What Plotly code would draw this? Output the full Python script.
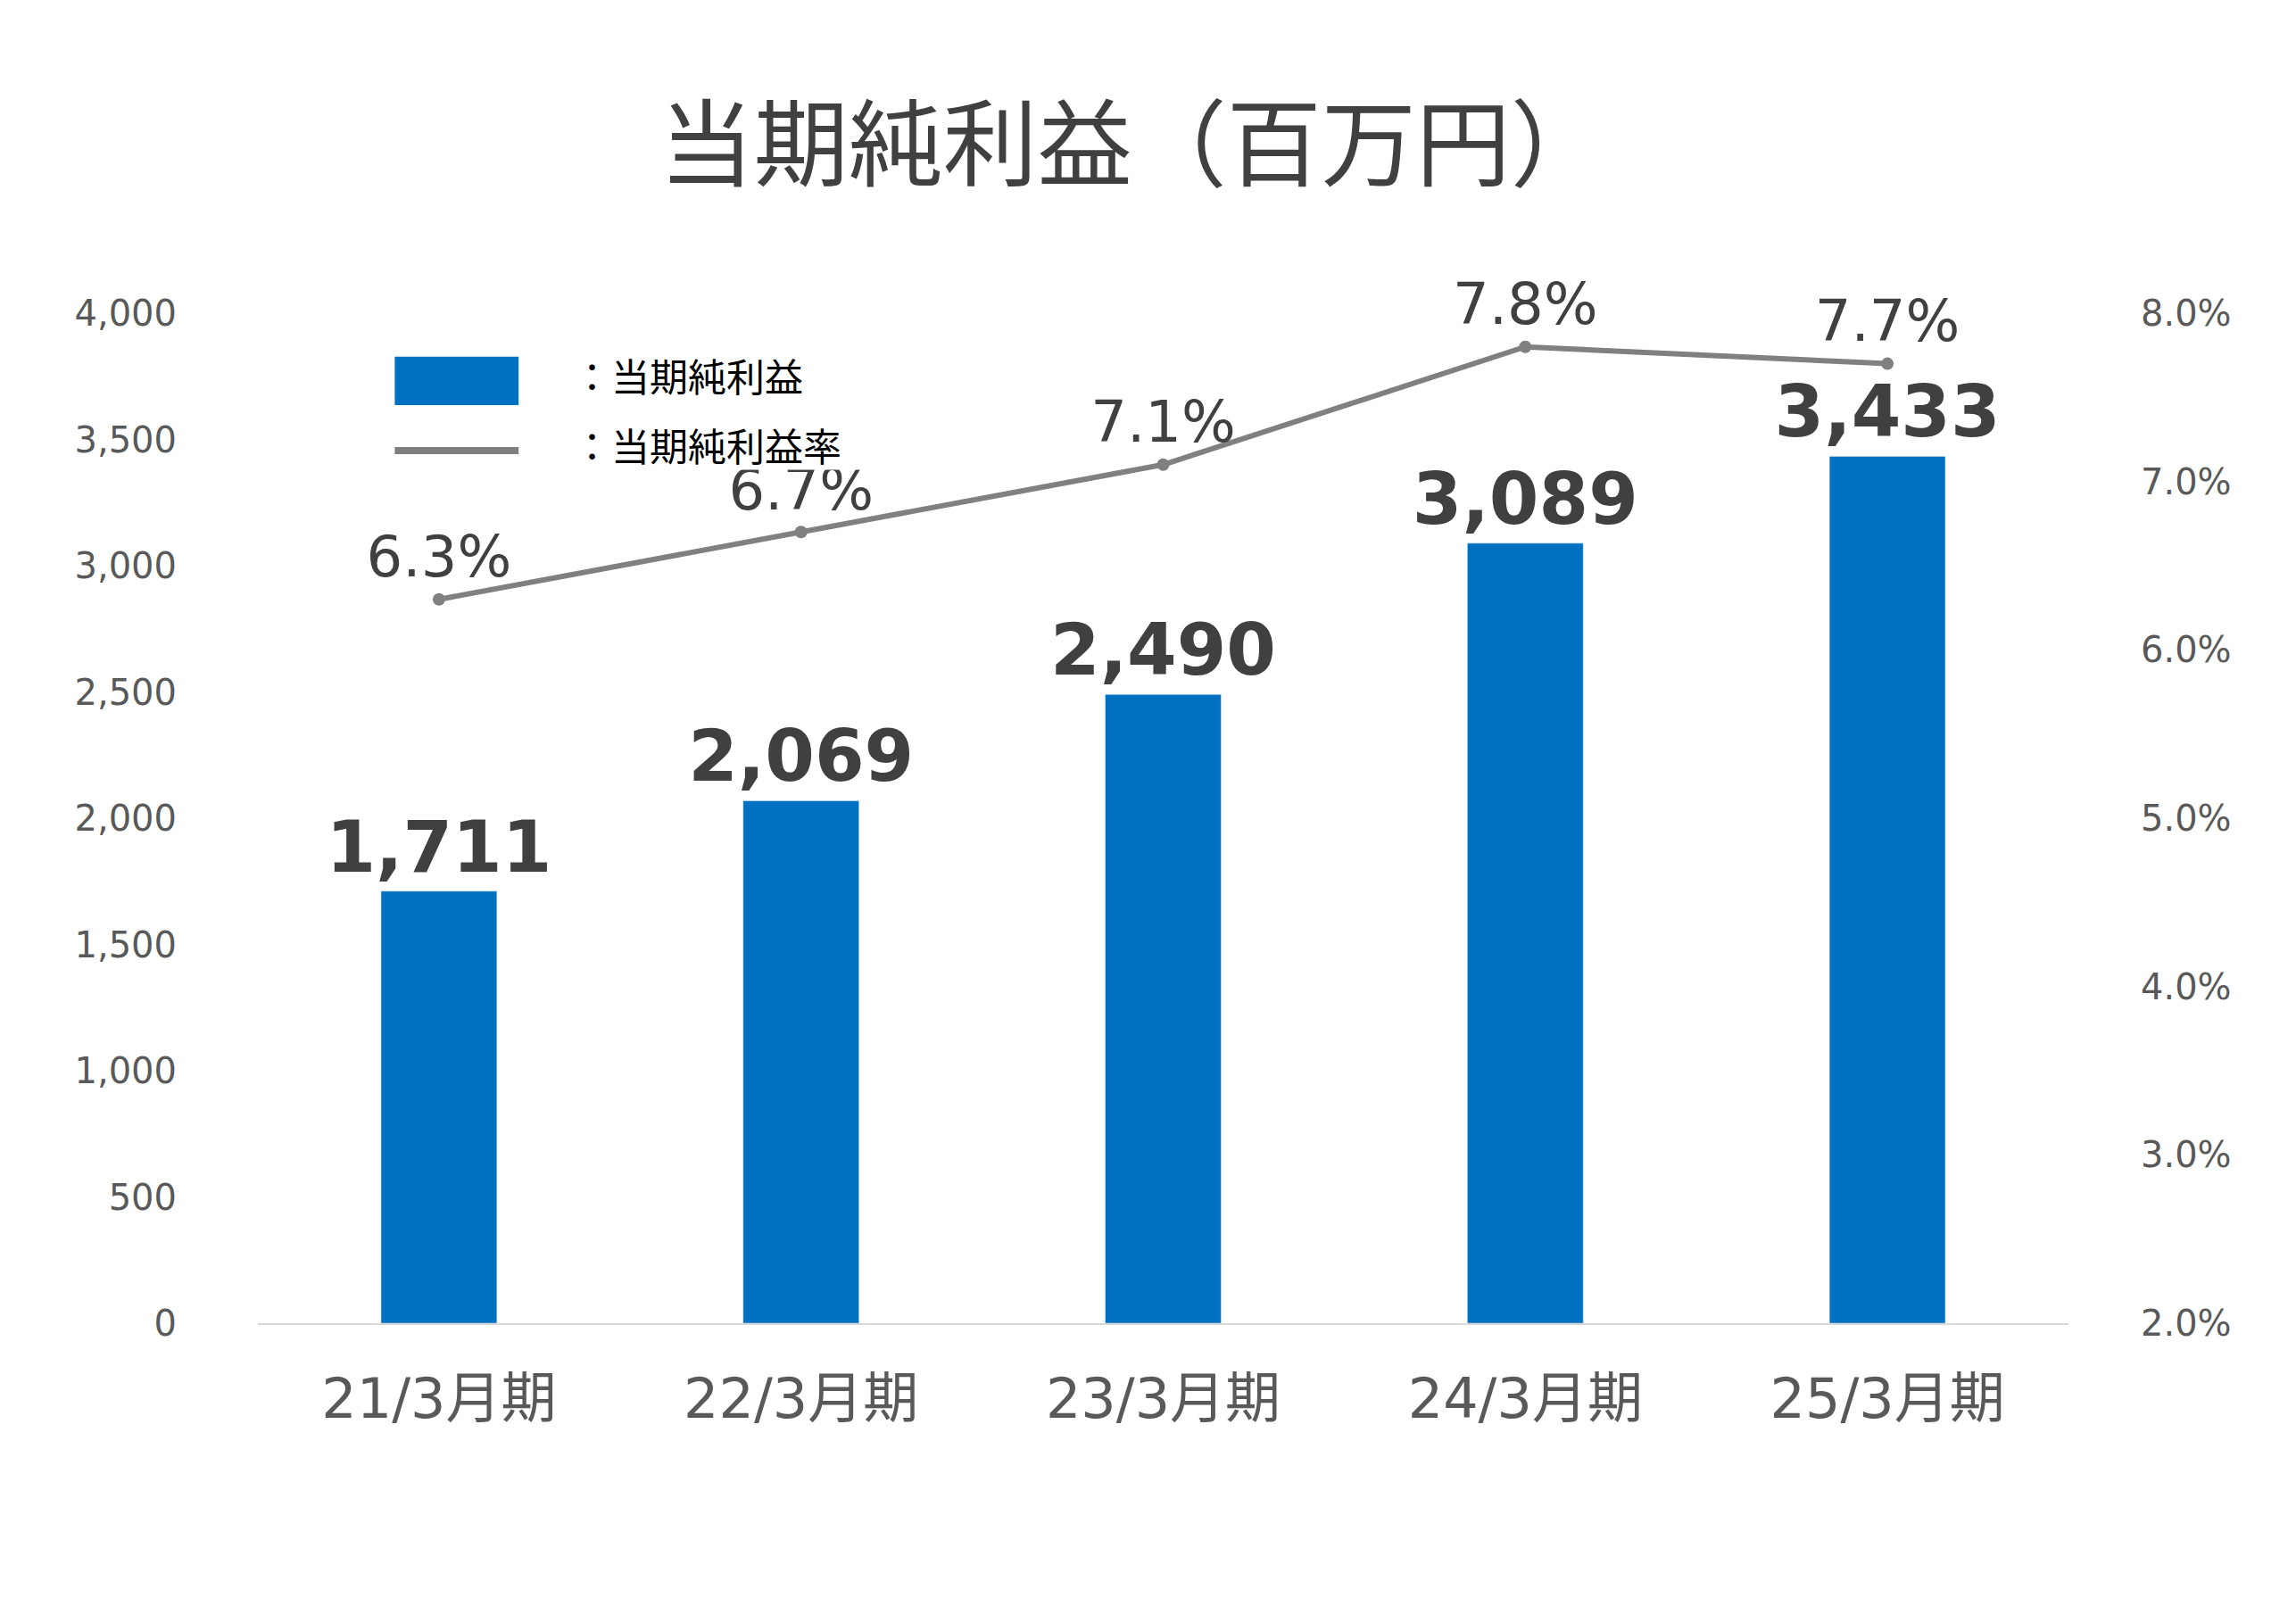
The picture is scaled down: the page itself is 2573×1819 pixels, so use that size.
import plotly.graph_objects as go

# chart data
categories = ["21/3月期", "22/3月期", "23/3月期", "24/3月期", "25/3月期"]
net_income = [1711, 2069, 2490, 3089, 3433]
net_margin = [0.063, 0.067, 0.071, 0.078, 0.077]
margin_labels = ["6.3%", "6.7%", "7.1%", "7.8%", "7.7%"]
legend_labels = ["：当期純利益", "：当期純利益率"]

BAR_COLOR = "#0070C0"
LINE_COLOR = "#808080"
TEXT_COLOR = "#404040"
TICK_COLOR = "#595959"
FONT = "DejaVu Sans, Noto Sans CJK JP"

fig = go.Figure()
fig.add_trace(go.Bar(
    x=categories, y=net_income, name=legend_labels[0],
    marker_color=BAR_COLOR, width=0.32,
    text=[f"{v:,}" for v in net_income], textposition="outside",
    constraintext="none",
    textfont=dict(size=80, color=TEXT_COLOR, family=FONT, weight="bold"),
    cliponaxis=False,
))
fig.add_trace(go.Scatter(
    x=categories, y=net_margin, name=legend_labels[1], yaxis="y2",
    mode="lines+markers+text", text=margin_labels, textposition="top center",
    line=dict(color=LINE_COLOR, width=6), marker=dict(size=14, color=LINE_COLOR),
    textfont=dict(size=64, color=TEXT_COLOR, family=FONT),
    cliponaxis=False,
))

# hand-drawn legend (plot-area relative coordinates)
fig.add_shape(type="rect", xref="paper", yref="paper", x0=0.07, x1=0.36, y0=0.845, y1=0.975,
              fillcolor="white", line_width=0, layer="above")
fig.add_shape(type="rect", xref="paper", yref="paper", x0=0.0756, x1=0.144, y0=0.909, y1=0.957,
              fillcolor=BAR_COLOR, line_width=0, layer="above")
fig.add_shape(type="line", xref="paper", yref="paper", x0=0.0756, x1=0.144, y0=0.864, y1=0.864,
              line=dict(color=LINE_COLOR, width=8), layer="above")
for label, ypos in zip(legend_labels, [0.939, 0.870]):
    fig.add_annotation(text=label, xref="paper", yref="paper", x=0.173, y=ypos,
                       xanchor="left", yanchor="middle", showarrow=False,
                       font=dict(size=43, color="#000000", family="Noto Sans CJK JP"))

fig.update_layout(
    width=2573, height=1819,
    paper_bgcolor="white", plot_bgcolor="white",
    font=dict(family=FONT, color=TICK_COLOR),
    title=dict(text="当期純利益（百万円）", x=0.49, y=0.915, xanchor="center", yanchor="middle",
               font=dict(size=106, color=TEXT_COLOR, family="Noto Sans CJK JP")),
    margin=dict(l=281, r=263, t=343, b=344),
    showlegend=False,
    bargap=0.68,
    xaxis=dict(showline=True, linecolor="#D9D9D9", linewidth=2, ticks="",
               ticklabelstandoff=30, tickfont=dict(size=62, color=TICK_COLOR)),
    yaxis=dict(range=[0, 4000], dtick=500, tickformat=",", showgrid=False,
               zeroline=False, ticklabelstandoff=90,
               tickfont=dict(size=40, color=TICK_COLOR)),
    yaxis2=dict(range=[0.02, 0.08], dtick=0.01, tickformat=".1%", overlaying="y",
                side="right", showgrid=False, zeroline=False, ticklabelstandoff=80,
                tickfont=dict(size=40, color=TICK_COLOR)),
)

fig.write_html("out.html")
